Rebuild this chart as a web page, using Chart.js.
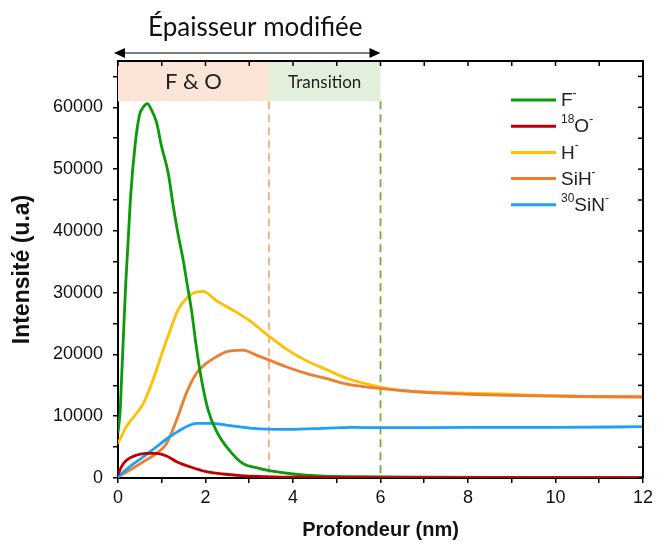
<!DOCTYPE html>
<html>
<head>
<meta charset="utf-8">
<script src="https://cdn.jsdelivr.net/npm/chart.js@4.4.0/dist/chart.umd.min.js"></script>
<style>
  html, body { margin: 0; padding: 0; background: #fff; }
  #wrap { width: 657px; height: 544px; }
</style>
</head>
<body>
<div id="wrap"><canvas id="chart" width="657" height="544"></canvas></div>
<script>
// profile values (depth in nm, intensity in u.a)
const depthF = [0, 0.05, 0.08, 0.13, 0.175, 0.235, 0.29, 0.39, 0.49, 0.58, 0.67, 0.77, 0.88, 0.99, 1.15, 1.26, 1.37, 1.49, 1.58, 1.68, 1.79, 1.91, 2.06, 2.25, 2.51, 2.85, 3.2, 3.46, 4.0, 4.6, 5.5, 7, 9, 12];
const intensF = [7300, 11000, 15800, 24000, 31200, 38760, 45760, 53850, 58700, 60040, 60590, 59500, 57600, 53850, 49270, 44140, 39570, 35300, 31400, 27170, 21230, 15850, 11000, 7600, 4800, 2370, 1600, 1190, 650, 320, 200, 120, 80, 60];

const depthO = [0, 0.08, 0.2, 0.43, 0.65, 0.88, 1.11, 1.34, 1.64, 2.02, 2.4, 2.8, 3.2, 4, 6, 12];
const intensO = [490, 1830, 2910, 3720, 4000, 4000, 3560, 2640, 1830, 1020, 650, 400, 250, 120, 60, 40];

const depthH = [0, 0.2, 0.58, 0.8, 1.03, 1.22, 1.37, 1.56, 1.81, 1.95, 2.25, 2.62, 3.0, 3.39, 3.84, 4.3, 4.75, 5.24, 5.97, 6.42, 7.1, 7.56, 8.7, 10.14, 11, 12];
const intensH = [5600, 8400, 12080, 15850, 20700, 24460, 27170, 29060, 30130, 30200, 28700, 27200, 25500, 23300, 20900, 19000, 17600, 16100, 14760, 14230, 13900, 13800, 13600, 13300, 13200, 13200];

const depthSiH = [0, 0.27, 0.58, 0.88, 1.11, 1.34, 1.56, 1.79, 2.02, 2.25, 2.47, 2.85, 3.16, 3.46, 3.84, 4.3, 4.75, 5.24, 5.97, 6.8, 7.56, 8.7, 10, 11, 12];
const intensSiH = [200, 1290, 2640, 4000, 5600, 9380, 13700, 16930, 18550, 19620, 20430, 20700, 19890, 19080, 18000, 16930, 16120, 15200, 14500, 13960, 13700, 13400, 13250, 13150, 13100];

const depthSiN = [0, 0.27, 0.58, 0.88, 1.18, 1.49, 1.79, 2.09, 2.47, 3.08, 3.84, 4.5, 5.36, 6, 8, 10, 12];
const intensSiN = [200, 1830, 3440, 5060, 6680, 8030, 8840, 8840, 8570, 8030, 7870, 8000, 8200, 8140, 8200, 8200, 8300];

// ticks (minor ones carry no label)
const xTicks = [0, 1, 2, 3, 4, 5, 6, 7, 8, 9, 10, 11, 12];
const xLabelled = [0, 2, 4, 6, 8, 10, 12];
const yTicks = [0, 5000, 10000, 15000, 20000, 25000, 30000, 35000, 40000, 45000, 50000, 55000, 60000, 65000];
const yLabelled = [0, 10000, 20000, 30000, 40000, 50000, 60000];

// legend labels, ^{..} = superscript
const legendNames = ['F^{-}', '^{18}O^{-}', 'H^{-}', 'SiH^{-}', '^{30}SiN^{-}'];

// zones above the curves
const zoneEdges = [0, 3.45, 6];
const zoneLabels = ['F & O', 'Transition'];
const zoneFloor = 61000;
const topTitle = 'Épaisseur modifiée';

const xTitle = 'Profondeur (nm)';
const yTitle = 'Intensité (u.a)';

const colF = '#0a9a0a', colO = '#c00000', colH = '#ffc000', colSiH = '#ed7d31', colSiN = '#1ea0f5';

function pts(xs, ys) {
  return xs.map((v, i) => ({ x: v, y: ys[i] }));
}

function drawRich(ctx, str, x, y, size) {
  const parts = str.split(/(\^\{[^}]*\})/).filter(s => s.length);
  let cx = x;
  parts.forEach(p => {
    if (p.startsWith('^{')) {
      const t = p.slice(2, -1);
      ctx.font = Math.round(size * 0.62) + 'px "Liberation Sans", Arial';
      ctx.fillText(t, cx, y - size * 0.38);
      cx += ctx.measureText(t).width;
    } else {
      ctx.font = size + 'px "Liberation Sans", Arial';
      ctx.fillText(p, cx, y);
      cx += ctx.measureText(p).width;
    }
  });
}

const decor = {
  id: 'decor',
  beforeDatasetsDraw(chart) {
    const { ctx, chartArea: a, scales: { x, y } } = chart;
    const fills = ['#fce4d6', '#e2efda'];
    const dashes = ['#f4b183', '#70ad47'];
    const fonts = ['22px Lato, "Open Sans"', '17px Lato, "Open Sans"'];
    ctx.save();
    const b = y.getPixelForValue(zoneFloor);
    for (let i = 0; i < zoneLabels.length; i++) {
      const l = x.getPixelForValue(zoneEdges[i]), r = x.getPixelForValue(zoneEdges[i + 1]);
      ctx.fillStyle = fills[i];
      ctx.fillRect(l, a.top, r - l, b - a.top);
      ctx.fillStyle = '#222';
      ctx.font = fonts[i];
      ctx.textAlign = 'center';
      ctx.textBaseline = 'middle';
      ctx.fillText(zoneLabels[i], (l + r) / 2, (a.top + b) / 2 + 1);
      ctx.strokeStyle = dashes[i];
      ctx.lineWidth = 1.8;
      ctx.setLineDash([8, 5]);
      ctx.beginPath();
      ctx.moveTo(r, b);
      ctx.lineTo(r, y.getPixelForValue(0));
      ctx.stroke();
      ctx.setLineDash([]);
    }
    ctx.restore();
  },
  afterDraw(chart) {
    const { ctx, chartArea: a, scales: { x, y } } = chart;
    ctx.save();
    // top and right frame with inward ticks
    ctx.strokeStyle = '#000';
    ctx.lineWidth = 2;
    ctx.beginPath();
    ctx.moveTo(a.left, a.top); ctx.lineTo(a.right, a.top); ctx.lineTo(a.right, a.bottom);
    ctx.stroke();
    ctx.lineWidth = 1.5;
    x.ticks.forEach(t => {
      const px = x.getPixelForValue(t.value);
      ctx.beginPath(); ctx.moveTo(px, a.top); ctx.lineTo(px, a.top + 5); ctx.stroke();
    });
    y.ticks.forEach(t => {
      const py = y.getPixelForValue(t.value);
      ctx.beginPath(); ctx.moveTo(a.right, py); ctx.lineTo(a.right - 5, py); ctx.stroke();
    });

    // arrow + title above the zones
    const x0 = x.getPixelForValue(zoneEdges[0]) - 4, x1 = x.getPixelForValue(zoneEdges[2]);
    const ay = 53;
    ctx.lineWidth = 1.2;
    ctx.beginPath(); ctx.moveTo(x0 + 8, ay); ctx.lineTo(x1 - 8, ay); ctx.stroke();
    ctx.fillStyle = '#000';
    ctx.beginPath(); ctx.moveTo(x0, ay); ctx.lineTo(x0 + 11, ay - 5); ctx.lineTo(x0 + 11, ay + 5); ctx.closePath(); ctx.fill();
    ctx.beginPath(); ctx.moveTo(x1, ay); ctx.lineTo(x1 - 11, ay - 5); ctx.lineTo(x1 - 11, ay + 5); ctx.closePath(); ctx.fill();
    ctx.fillStyle = '#111';
    ctx.font = '26px Lato, "Open Sans"';
    ctx.textAlign = 'center';
    ctx.textBaseline = 'middle';
    ctx.fillText(topTitle, (x0 + x1) / 2 + 8, 28);

    // legend
    const cols = chart.data.datasets.map(d => d.borderColor);
    const order = [1, 0, 4, 3, 2];
    ctx.textAlign = 'left';
    ctx.textBaseline = 'middle';
    legendNames.forEach((n, i) => {
      const ly = 100 + i * 26.2;
      ctx.strokeStyle = cols[order[i]];
      ctx.lineWidth = 3;
      ctx.beginPath(); ctx.moveTo(511, ly); ctx.lineTo(556, ly); ctx.stroke();
      ctx.fillStyle = '#222';
      drawRich(ctx, n, 561, ly + 1, 19);
    });
    ctx.restore();
  }
};

const tickFont = { family: '"Liberation Sans", Arial', size: 18 };

new Chart(document.getElementById('chart'), {
  type: 'line',
  data: {
    datasets: [
      { data: pts(depthO, intensO), borderColor: colO },
      { data: pts(depthF, intensF), borderColor: colF },
      { data: pts(depthSiN, intensSiN), borderColor: colSiN },
      { data: pts(depthSiH, intensSiH), borderColor: colSiH },
      { data: pts(depthH, intensH), borderColor: colH }
    ].map(d => Object.assign(d, { borderWidth: 2.8, pointRadius: 0, cubicInterpolationMode: 'monotone', fill: false }))
  },
  options: {
    responsive: false,
    animation: false,
    devicePixelRatio: 1,
    layout: { padding: { top: 61, right: 12, left: 0, bottom: 0 } },
    plugins: { legend: { display: false }, tooltip: { enabled: false } },
    scales: {
      x: {
        type: 'linear', min: 0, max: 12,
        border: { display: true, color: '#000', width: 2 },
        grid: { drawOnChartArea: false, drawTicks: true, tickLength: 5, color: '#000', lineWidth: 1.5 },
        ticks: { autoSkip: false, maxRotation: 0, padding: 4, color: '#111', font: tickFont,
          callback: v => (xLabelled.includes(v) ? String(v) : '') },
        afterBuildTicks: s => { s.ticks = xTicks.map(v => ({ value: v })); },
        title: { display: true, text: xTitle, color: '#111', font: { family: '"Liberation Sans", Arial', size: 20, weight: 'bold' }, padding: { top: 0, bottom: 2 } },
        afterFit: s => { s.height = 66; }
      },
      y: {
        type: 'linear', min: 0, max: 67500,
        border: { display: true, color: '#000', width: 2 },
        grid: { drawOnChartArea: false, drawTicks: true, tickLength: 5, color: '#000', lineWidth: 1.5 },
        ticks: { autoSkip: false, padding: 10, color: '#111', font: tickFont,
          callback: v => (yLabelled.includes(v) ? String(v) : '') },
        afterBuildTicks: s => { s.ticks = yTicks.map(v => ({ value: v })); },
        title: { display: true, text: yTitle, color: '#111', font: { family: '"Liberation Sans", Arial', size: 23, weight: 'bold' }, padding: { top: 9, bottom: 0 } },
        afterFit: s => { s.width = 118; }
      }
    }
  },
  plugins: [decor]
});
</script>
</body>
</html>
